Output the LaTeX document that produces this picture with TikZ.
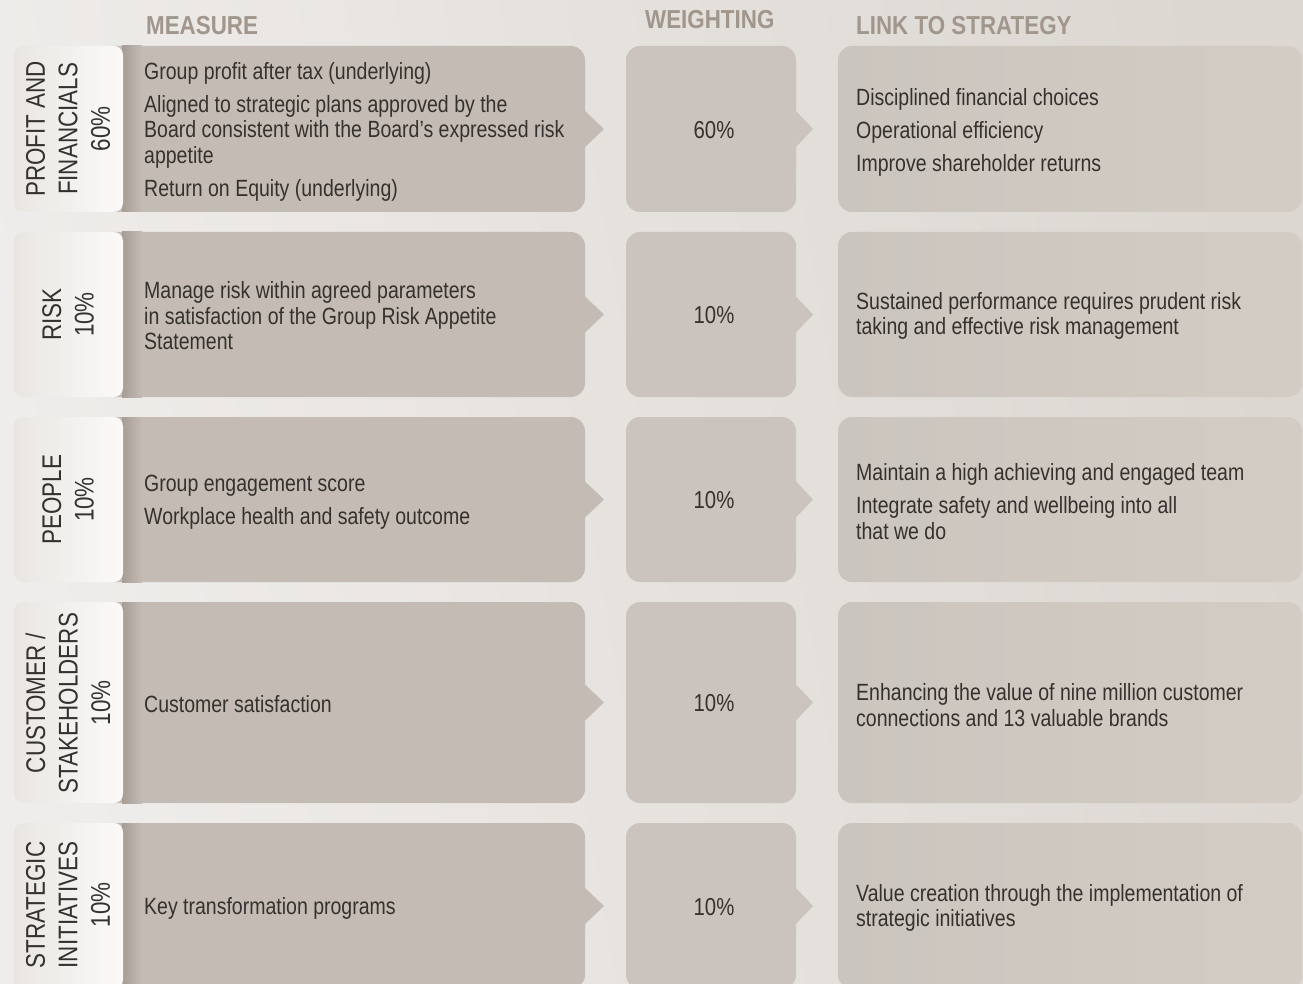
\documentclass[tikz,border=0pt]{standalone}
\usepackage{fontspec}
\setmainfont{Liberation Sans}[FakeStretch=0.83]
\newfontfamily\hdrfont{Liberation Sans}[FakeStretch=0.86]
\definecolor{bgL}{HTML}{EFEDEB}
\definecolor{bgR}{HTML}{DCD7D1}
\definecolor{meas}{HTML}{C4BCB4}
\definecolor{measdark}{HTML}{A69E96}
\definecolor{wgt}{HTML}{CBC4BE}
\definecolor{lnkL}{HTML}{CBC5BF}
\definecolor{lnkR}{HTML}{D3CCC4}
\definecolor{tabL}{HTML}{E9E6E2}
\definecolor{tabR}{HTML}{FBFAF9}
\definecolor{head}{HTML}{A0968C}
\definecolor{txt}{HTML}{35312E}
\tikzset{
 body/.style={anchor=west, align=left, text=txt, font=\fontsize{23.5}{25.5}\selectfont, inner sep=0pt},
 tabtxt/.style={rotate=90, align=center, text=txt, font=\fontsize{27}{32.5}\selectfont, inner sep=0pt},
 hdr/.style={text=head, font=\hdrfont\fontsize{26}{30}\selectfont\bfseries, inner sep=0pt, anchor=west},
 pct/.style={text=txt, font=\fontsize{24.5}{26}\selectfont, inner sep=0pt}
}
\newcommand\rowbg[2]{%
 \pgfmathsetmacro\rowc{(#1+#2)/2}%
 \fill[meas, rounded corners=14pt] (100,#1) rectangle (585,#2);
 \fill[meas] (584,{\rowc-19}) -- (604,\rowc) -- (584,{\rowc+19}) -- cycle;
 \shade[left color=measdark, right color=meas] (122,#1) rectangle (142,#2);
 \shade[left color=tabL, right color=tabR, rounded corners=9pt] (14,#1) rectangle (123,#2);
 \fill[wgt, rounded corners=14pt] (626,#1) rectangle (796,#2);
 \fill[wgt] (795,{\rowc-19}) -- (813,\rowc) -- (795,{\rowc+19}) -- cycle;
 \shade[left color=lnkL, right color=lnkR, rounded corners=14pt] (838,#1) rectangle (1302,#2);
}
\begin{document}
\begin{tikzpicture}[x=1pt,y=-1pt]
\useasboundingbox (0,0) rectangle (1303,984);
\clip (0,0) rectangle (1303,984);
\shade[left color=bgL, right color=bgR, shading angle=100] (0,0) rectangle (1303,984);

\node[hdr] (hmeas) at (146,25.5) {MEASURE};
\node[hdr] (hwgt) at (645,20) {WEIGHTING};
\node[hdr] (hlink) at (856,26) {LINK TO STRATEGY};

% Row 1
\rowbg{46}{212}
\node[tabtxt] (t1) at (68,129) {PROFIT AND\\FINANCIALS\\60\%};
\node[body] (m1) at (144,131.5) {Group profit after tax (underlying)\\[7.5pt]Aligned to strategic plans approved by the\\Board consistent with the Board’s expressed risk\\appetite\\[7.5pt]Return on Equity (underlying)};
\node[pct] (w1) at (714,130) {60\%};
\node[body] (l1) at (856,132) {Disciplined financial choices\\[7.5pt]Operational efficiency\\[7.5pt]Improve shareholder returns};

% Row 2
\rowbg{232}{397}
\node[tabtxt] (t2) at (68,314.5) {RISK\\10\%};
\node[body] (m2) at (144,316) {Manage risk within agreed parameters\\in satisfaction of the Group Risk Appetite\\Statement};
\node[pct] (w2) at (714,315) {10\%};
\node[body] (l2) at (856,316) {Sustained performance requires prudent risk\\taking and effective risk management};

% Row 3
\rowbg{417}{582}
\node[tabtxt] (t3) at (68,499.5) {PEOPLE\\10\%};
\node[body] (m3) at (144,502.5) {Group engagement score\\[7.5pt]Workplace health and safety outcome};
\node[pct] (w3) at (714,500) {10\%};
\node[body] (l3) at (856,501.5) {Maintain a high achieving and engaged team\\[7.5pt]Integrate safety and wellbeing into all\\that we do};

% Row 4
\rowbg{602}{803}
\node[tabtxt] (t4) at (68,703) {CUSTOMER /\\STAKEHOLDERS\\10\%};
\node[body] (m4) at (144,704) {Customer satisfaction};
\node[pct] (w4) at (714,703) {10\%};
\node[body] (l4) at (856,705) {Enhancing the value of nine million customer\\connections and 13 valuable brands};

% Row 5
\rowbg{823}{989}
\node[tabtxt] (t5) at (68,905) {STRATEGIC\\INITIATIVES\\10\%};
\node[body] (m5) at (144,908.5) {Key transformation programs};
\node[pct] (w5) at (714,907) {10\%};
\node[body] (l5) at (856,908) {Value creation through the implementation of\\strategic initiatives};
\end{tikzpicture}
\end{document}
